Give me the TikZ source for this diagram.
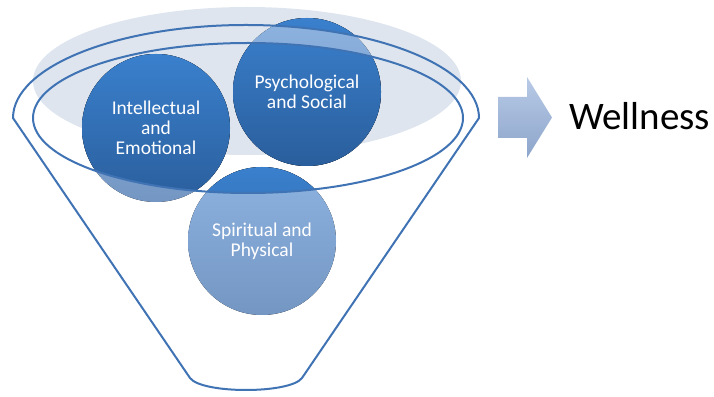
\documentclass[tikz,border=0pt]{standalone}
\usepackage{fontspec}
\setmainfont{Carlito}
\definecolor{rimblue}{HTML}{3F73B4}
\definecolor{ballTop}{HTML}{3A80CD}
\definecolor{ballBot}{HTML}{2A5E9C}
\definecolor{paleTop}{HTML}{8DB3E0}
\definecolor{paleBot}{HTML}{7496C3}
\definecolor{backfill}{HTML}{DEE5EF}
\definecolor{arrowTop}{HTML}{B8CAE6}
\definecolor{arrowBot}{HTML}{8DA5CB}

\begin{document}
\begin{tikzpicture}[x=1pt,y=1pt,
	rim/.style={draw=rimblue,line width=2pt},
	ball/.style={top color=ballTop,bottom color=ballBot},
	paleball/.style={top color=paleTop,bottom color=paleBot},
	balltext/.style={text=white,font=\fontsize{19.5}{20}\selectfont,align=center,inner sep=0pt}]
\useasboundingbox (0,0) rectangle (714,396);
\fill[backfill] (247,315) ellipse [x radius=214,y radius=74];

% balls, pale where seen through the funnel
\fill[paleball] (156,268) circle (74);
\fill[paleball] (307,304) circle (74);
\fill[paleball] (262,155) circle (74);
% dark inside the rim
\begin{scope}
	\clip (248,278) ellipse [x radius=215,y radius=75];
	\fill[ball] (156,268) circle (74);
	\fill[ball] (307,304) circle (74);
	\fill[ball] (262,155) circle (74);
\end{scope}
% dark above the funnel
\begin{scope}
	\clip (0,278) -- (13,278) arc [start angle=180,end angle=0,x radius=233,y radius=93]
		-- (714,278) -- (714,396) -- (0,396) -- cycle;
	\fill[ball] (307,304) circle (74);
\end{scope}

% funnel
\draw[rim] (13,278) arc [start angle=180,end angle=0,x radius=233,y radius=93]
	-- (302,18) .. controls (290,2) and (202,2) .. (190,18) -- cycle;
\draw[rim] (248,278) ellipse [x radius=215,y radius=75];

\node[balltext] (Intel) at (156,268) {Intellectual\\and\\Emotional};
\node[balltext] (Psych) at (307,304) {Psychological\\and Social};
\node[balltext] (Spirit) at (262,155) {Spiritual and\\Physical};

% arrow and result
\shade[top color=arrowTop,bottom color=arrowBot] (498,258) -- (527,258) -- (527,238)
	-- (552,278.5) -- (527,319) -- (527,299) -- (498,299) -- cycle;
\node[anchor=west,inner sep=0pt,font=\fontsize{39}{40}\selectfont] (Wellness) at (569,280) {Wellness};
\end{tikzpicture}
\end{document}
